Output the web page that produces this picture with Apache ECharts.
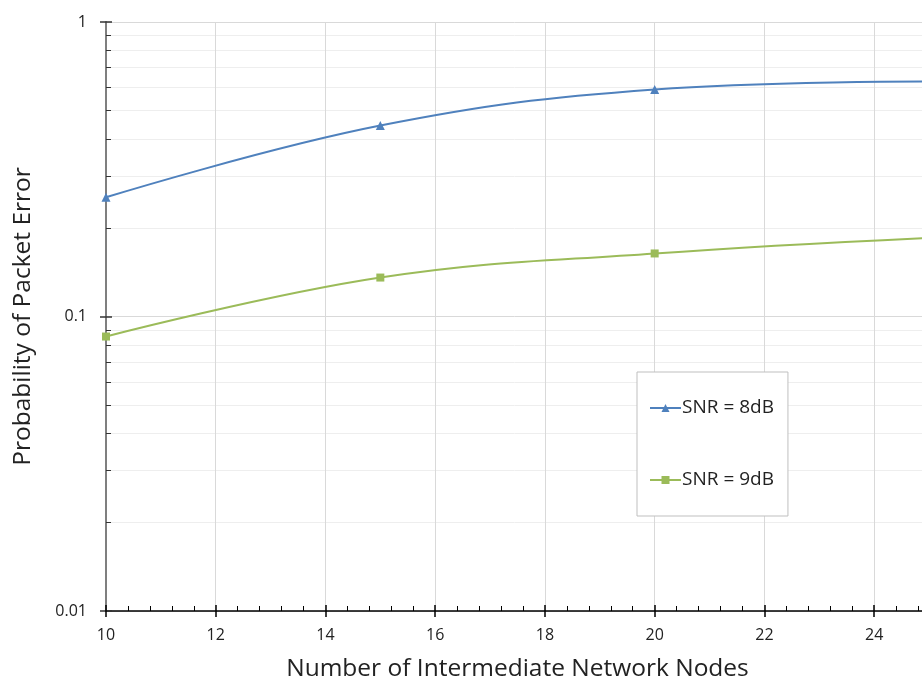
<!DOCTYPE html>
<html>
<head>
<meta charset="utf-8">
<script src="https://cdn.jsdelivr.net/npm/echarts@6/dist/echarts.min.js"></script>
<style>
  html, body { margin: 0; padding: 0; background: #fff; }
  #chart { width: 922px; height: 680px; }
</style>
</head>
<body>
<div id="chart"></div>
<script>
const nodes = [10, 15, 20, 25]
const snr8 = [0.254, 0.445, 0.59, 0.628]
const snr9 = [0.0855, 0.1356, 0.1637, 0.185]
const seriesNames = ['SNR = 8dB', 'SNR = 9dB']

const font = '"Open Sans", "Liberation Sans", sans-serif'

const chart = echarts.init(document.getElementById('chart'))

const xBase = { type: 'value', gridIndex: 0, min: 10, max: 25, interval: 2, position: 'bottom' }
const yBase = { type: 'log', gridIndex: 0, min: 0.01, max: 1, logBase: 10, position: 'left' }

chart.setOption({
  backgroundColor: '#fff',
  animation: false,
  grid: { left: 106, top: 22, right: -7, bottom: 69, containLabel: false, outerBoundsMode: 'none' },
  legend: {
    orient: 'vertical',
    left: 637, top: 372,
    padding: [24, 14, 24, 12],
    itemGap: 48,
    itemWidth: 31, itemHeight: 10,
    borderColor: '#bfbfbf', borderWidth: 1,
    backgroundColor: '#fff',
    textStyle: { fontFamily: font, fontSize: 19, lineHeight: 24, color: '#222', padding: [0, 0, 0, -4] },
    data: seriesNames
  },
  xAxis: [
    Object.assign({}, xBase, {
      name: 'Number of Intermediate Network Nodes',
      nameLocation: 'middle', nameGap: 46,
      nameTextStyle: { fontFamily: font, fontSize: 24.5, color: '#222' },
      axisLine: { lineStyle: { color: '#000', width: 1.5 } },
      axisTick: { inside: true, length: 6, lineStyle: { color: '#000', width: 1.5 } },
      minorTick: { show: true, splitNumber: 5, length: 5, lineStyle: { color: '#000', width: 1 } },
      axisLabel: { fontFamily: font, fontSize: 16, color: '#222', margin: 16, showMaxLabel: false },
      splitLine: { show: true, lineStyle: { color: '#d9d9d9', width: 1 } }
    }),
    Object.assign({}, xBase, {
      axisLine: { show: false },
      axisTick: { inside: false, length: 6, lineStyle: { color: '#000', width: 1.5 } },
      axisLabel: { show: false },
      splitLine: { show: false }
    })
  ],
  yAxis: [
    Object.assign({}, yBase, {
      name: 'Probability of Packet Error',
      nameLocation: 'middle', nameGap: 70,
      nameTextStyle: { fontFamily: font, fontSize: 24.5, color: '#222' },
      axisLine: { show: true, lineStyle: { color: '#7f7f7f', width: 2 } },
      axisTick: { inside: true, length: 6, lineStyle: { color: '#333', width: 1.5 } },
      minorTick: { show: true, splitNumber: 9, length: 5, lineStyle: { color: '#333', width: 1 } },
      minorSplitLine: { show: true, lineStyle: { color: '#eeeeee', width: 1 } },
      axisLabel: { fontFamily: font, fontSize: 16, color: '#222', margin: 19 },
      splitLine: { show: true, lineStyle: { color: '#d9d9d9', width: 1 } }
    }),
    Object.assign({}, yBase, {
      axisLine: { show: false },
      axisTick: { inside: false, length: 6, lineStyle: { color: '#333', width: 1.5 } },
      axisLabel: { show: false },
      splitLine: { show: false }
    })
  ],
  series: [
    {
      name: seriesNames[0],
      type: 'line',
      smooth: 0.4,
      symbol: 'triangle',
      symbolSize: 9,
      showAllSymbol: true,
      lineStyle: { color: '#4f81bd', width: 2 },
      itemStyle: { color: '#4f81bd' },
      data: nodes.map((n, i) => [n, snr8[i]])
    },
    {
      name: seriesNames[1],
      type: 'line',
      smooth: 0.4,
      symbol: 'rect',
      symbolSize: 8,
      showAllSymbol: true,
      lineStyle: { color: '#9bbb59', width: 2 },
      itemStyle: { color: '#9bbb59' },
      data: nodes.map((n, i) => [n, snr9[i]])
    }
  ]
})
</script>
</body>
</html>
